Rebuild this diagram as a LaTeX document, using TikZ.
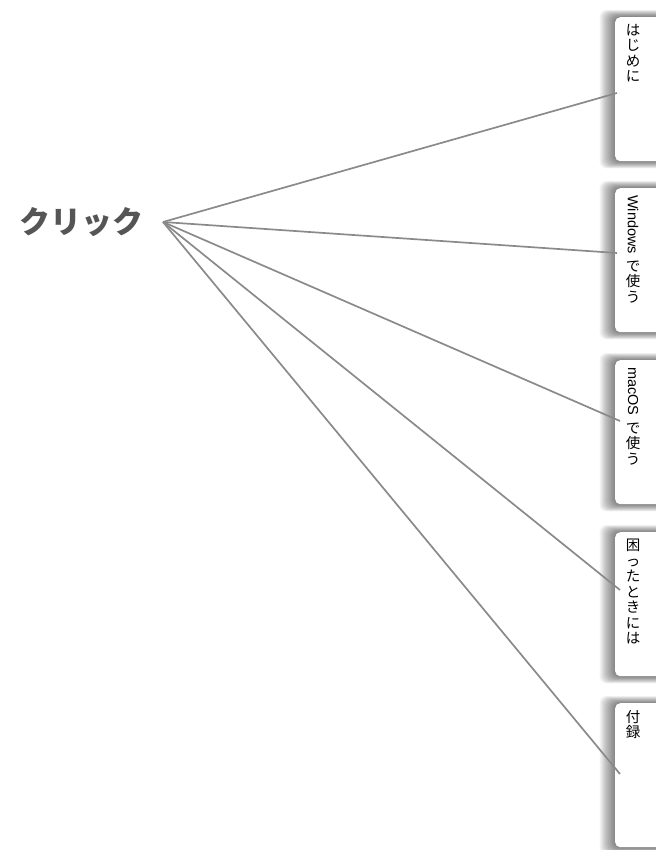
\documentclass[tikz,border=0pt]{standalone}
\usepackage{fontspec}
\setmainfont{Noto Sans CJK JP}
\newfontfamily\latinfont{Liberation Sans}
\usetikzlibrary{positioning, backgrounds}
\definecolor{linegray}{HTML}{8A8A8A}
\definecolor{textgray}{HTML}{555555}

\begin{document}
\begin{tikzpicture}[
    x=1pt, y=-1pt,
    font=\fontsize{14.5}{15.5}\selectfont,
    tabcard/.style={fill=white, rounded corners=5pt, minimum width=50pt, minimum height=144pt, anchor=north west, inner sep=0pt},
    tablabel/.style={anchor=north, align=center, inner sep=0pt, text=black},
    headline/.style={font=\fontsize{31}{34}\selectfont\bfseries, text=textgray},
    link/.style={draw=linegray, line width=1.7pt}
  ]
  \useasboundingbox (0,0) rectangle (655,850);
  % Nodes
  \node[headline] (click) at (81,222) {クリック};
  \coordinate (hub) at (163,222);
  \foreach \i/\top/\txt/\ex/\ey in {
      1/17/{は\\じ\\め\\に}/617/93,
      2/188/{\rotatebox{-90}{\latinfont Windows}\\[6pt]で\\使\\う}/617/253,
      3/360/{\rotatebox{-90}{\latinfont macOS}\\[6pt]で\\使\\う}/620/421,
      4/532/{困\\っ\\た\\と\\き\\に\\は}/620/590,
      5/703/{付\\録}/620/774}{
    \node[tabcard] (tab\i) at (615,\top) {};
    \node[tablabel] (lbl\i) at (633,\top+7) {\txt};
    \coordinate (end\i) at (\ex,\ey);
    % soft shadow
    \begin{scope}[on background layer]
      \foreach \k in {1,...,14}
        \fill[black, opacity=.045, rounded corners=7pt]
          ([xshift=-1.1*\k pt, yshift=.5*\k pt]tab\i.north west) rectangle ([yshift=-.5*\k pt]tab\i.south east);
    \end{scope}
  }
  % Connectors
  \foreach \i in {1,...,5}
    \draw[link] (hub) -- (end\i);
\end{tikzpicture}
\end{document}
